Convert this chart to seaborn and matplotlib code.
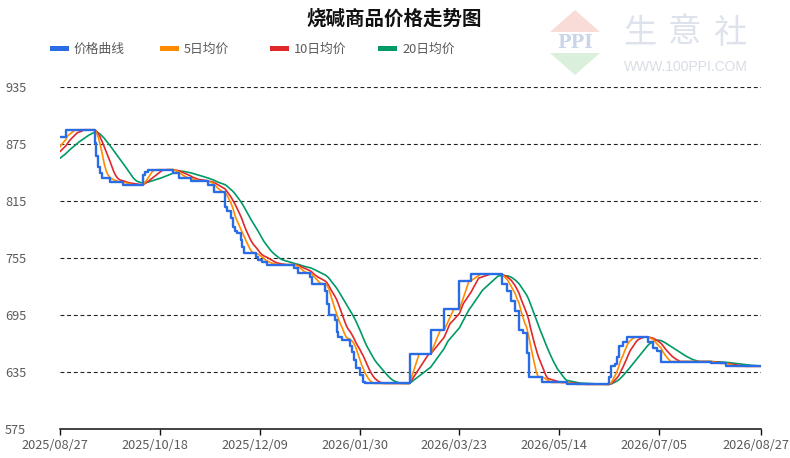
import numpy as np
import pandas as pd
import matplotlib
matplotlib.use("Agg")
import matplotlib.pyplot as plt
import matplotlib.patches as mpatches
import matplotlib.transforms as mtransforms
import seaborn as sns

sns.set_theme(style="white")
plt.rcParams["font.family"] = ["Noto Sans CJK SC", "DejaVu Sans"]

START, END = "2025-08-27", "2026-08-27"

# daily price, given as the day each new level starts (first five = run-up before the window)
CHANGE_DATES = [
    "2025-08-08", "2025-08-13", "2025-08-18", "2025-08-23", "2025-08-24",
    "2025-08-27", "2025-08-31", "2025-09-15", "2025-09-16", "2025-09-17",
    "2025-09-18", "2025-09-19", "2025-09-23", "2025-09-30", "2025-10-10",
    "2025-10-11", "2025-10-13", "2025-10-26", "2025-10-29", "2025-11-04",
    "2025-11-13", "2025-11-16", "2025-11-22", "2025-11-23", "2025-11-25",
    "2025-11-26", "2025-11-27", "2025-11-28", "2025-11-30", "2025-12-01",
    "2025-12-02", "2025-12-08", "2025-12-09", "2025-12-11", "2025-12-14",
    "2025-12-28", "2025-12-30", "2026-01-05", "2026-01-06", "2026-01-13",
    "2026-01-14", "2026-01-15", "2026-01-18", "2026-01-19", "2026-01-20",
    "2026-01-22", "2026-01-26", "2026-01-27", "2026-01-28", "2026-01-29",
    "2026-01-31", "2026-02-02", "2026-02-03", "2026-02-26", "2026-03-09",
    "2026-03-16", "2026-03-24", "2026-03-30", "2026-04-15", "2026-04-18",
    "2026-04-20", "2026-04-22", "2026-04-24", "2026-04-26", "2026-04-28",
    "2026-04-29", "2026-05-06", "2026-05-19", "2026-06-10", "2026-06-11",
    "2026-06-13", "2026-06-14", "2026-06-15", "2026-06-17", "2026-06-19",
    "2026-06-30", "2026-07-03", "2026-07-05", "2026-07-07", "2026-08-02",
    "2026-08-10",
]
CHANGE_PRICES = [
    850, 856, 862, 868, 870,
    882, 890, 876, 862, 851,
    844, 839, 835, 832, 842,
    846, 848, 844, 839, 836,
    832, 824, 809, 804, 797,
    788, 783, 781, 774, 767,
    760, 756, 753, 751, 748,
    744, 739, 735, 728, 720,
    707, 695, 690, 677, 672,
    669, 662, 656, 648, 639,
    632, 624, 623, 654, 679,
    701, 731, 738, 728, 720,
    710, 699, 679, 676, 655,
    630, 624, 622, 630, 641,
    643, 651, 662, 667, 672,
    667, 660, 657, 646, 644,
    641,
]

MA_WINDOWS = [5, 10, 20]
SERIES = ["价格曲线", "5日均价", "10日均价", "20日均价"]
COLORS = ["#2a6be6", "#ff8c00", "#e0282b", "#009a66"]
TICK_DATES = ["2025/08/27", "2025/10/18", "2025/12/09", "2026/01/30",
              "2026/03/23", "2026/05/14", "2026/07/05", "2026/08/27"]
Y_TICKS = [575, 635, 695, 755, 815, 875, 935]

# ── build daily frame + moving averages ─────────────────────────────────────
days = pd.date_range(CHANGE_DATES[0], END, freq="D")
price = (pd.Series(CHANGE_PRICES, index=pd.to_datetime(CHANGE_DATES))
         .reindex(days).ffill())
df = pd.DataFrame({"date": days, SERIES[0]: price.values})
for w, name in zip(MA_WINDOWS, SERIES[1:]):
    df[name] = price.rolling(w).mean().values
df = df[df["date"] >= START].reset_index(drop=True)

# ── figure ──────────────────────────────────────────────────────────────────
W, H = 790, 458
fig = plt.figure(figsize=(W / 100, H / 100), dpi=100)
fig.patch.set_facecolor("white")
ax = fig.add_axes([60 / W, 1 - 429 / H, 701 / W, 342 / H])

def fx(x): return x / W
def fy(y): return 1 - y / H

for name, color in reversed(list(zip(SERIES[1:], COLORS[1:]))):
    sns.lineplot(data=df, x="date", y=name, color=color, lw=1.2, ax=ax)
sns.lineplot(data=df, x="date", y=SERIES[0], color=COLORS[0], lw=1.7,
             drawstyle="steps-pre", ax=ax)

ax.set_xlim(pd.Timestamp(START), pd.Timestamp(END))
ax.set_ylim(Y_TICKS[0], Y_TICKS[-1])
ax.set_yticks(Y_TICKS)
ax.set_yticklabels([str(v) for v in Y_TICKS])
ax.set_xticks(pd.to_datetime(TICK_DATES))
ax.set_xticklabels(TICK_DATES)
ax.set_xlabel(""); ax.set_ylabel("")

ax.grid(axis="y", color="#222222", linestyle=(0, (3.5, 2.5)), linewidth=0.8)
ax.grid(axis="x", visible=False)
ax.set_axisbelow(True)
for side in ["left", "top", "right"]:
    ax.spines[side].set_visible(False)
ax.spines["bottom"].set_color("#111111")
ax.spines["bottom"].set_linewidth(1.1)

ax.tick_params(axis="y", length=0, pad=39.5, labelsize=9.2, labelcolor="#5a5a5a")
ax.tick_params(axis="x", direction="out", length=4, width=1, color="#111111",
               pad=3, labelsize=9.2, labelcolor="#5a5a5a", bottom=True)
for lab in ax.get_yticklabels():
    lab.set_horizontalalignment("left")
shift = mtransforms.ScaledTranslation(-5 / 100, 0, fig.dpi_scale_trans)
for lab in ax.get_xticklabels():
    lab.set_transform(lab.get_transform() + shift)

# ── title + legend ──────────────────────────────────────────────────────────
fig.text(fx(394), fy(19), "烧碱商品价格走势图", ha="center", va="center",
         fontsize=14, fontweight="bold", color="#111111")
leg_x = [50, 160, 270, 378]
for x0, name, color in zip(leg_x, SERIES, COLORS):
    fig.patches.append(mpatches.Rectangle((fx(x0), fy(51)), fx(19), 5 / H,
                                          transform=fig.transFigure,
                                          color=color, lw=0))
    fig.text(fx(x0 + 24), fy(49), name, ha="left", va="center",
             fontsize=9.2, color="#5a5a5a")

# ── watermark ───────────────────────────────────────────────────────────────
fig.patches.append(mpatches.Polygon(
    [(fx(575), fy(10)), (fx(550), fy(32)), (fx(600), fy(32))],
    closed=True, transform=fig.transFigure, color="#f9dbd8", lw=0))
fig.patches.append(mpatches.Polygon(
    [(fx(550), fy(53)), (fx(600), fy(53)), (fx(575), fy(75))],
    closed=True, transform=fig.transFigure, color="#daf0dc", lw=0))
fig.text(fx(575), fy(43.5), "PPI", ha="center", va="center", fontsize=13,
         fontweight="bold", family="DejaVu Serif", color="#cbd5ea")
for cx, ch in zip([640, 685, 730], "生意社"):
    fig.text(fx(cx), fy(33), ch, ha="center", va="center", fontsize=24,
             color="#dde2ec")
fig.text(fx(686), fy(67), "WWW.100PPI.COM", ha="center", va="center",
         fontsize=10, family="Liberation Sans", color="#d8dce4")

fig.savefig("out.png", dpi=100)
